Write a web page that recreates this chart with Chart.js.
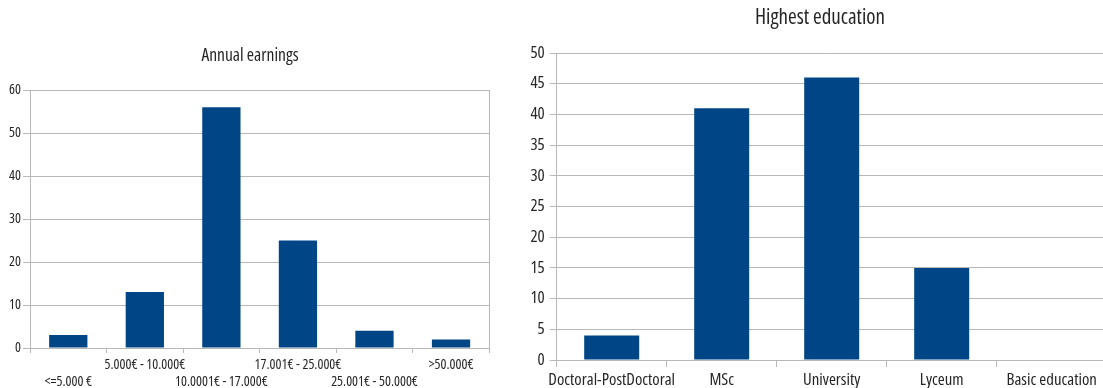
<!DOCTYPE html>
<html>
<head>
<meta charset="utf-8">
<script src="https://cdn.jsdelivr.net/npm/chart.js@4/dist/chart.umd.min.js"></script>
<style>
  html, body { margin: 0; padding: 0; background: #ffffff; overflow: hidden; width: 1103px; height: 388px; }
  .box { position: absolute; top: 0; height: 388px; }
  #leftBox { left: 0; width: 500px; }
  #rightBox { left: 520px; width: 600px; }
</style>
</head>
<body>
<div id="leftBox" class="box"><canvas id="earnings"></canvas></div>
<div id="rightBox" class="box"><canvas id="education"></canvas></div>
<script>
const earningsTitle = "Annual earnings";
const earningsCategories = ["<=5.000 €", "5.000€ - 10.000€", "10.0001€ - 17.000€", "17.001€ - 25.000€", "25.001€ - 50.000€", ">50.000€"];
const earningsValues = [3, 13, 56, 25, 4, 2];
const earningsTicks = [0, 10, 20, 30, 40, 50, 60];

const educationTitle = "Highest education";
const educationCategories = ["Doctoral-PostDoctoral", "MSc", "University", "Lyceum", "Basic education"];
const educationValues = [4, 41, 46, 15, 0];
const educationTicks = [0, 5, 10, 15, 20, 25, 30, 35, 40, 45, 50];

// Open Sans with its condensed width (font-stretch keyword goes in the weight slot of the font string)
const FONT = "'Open Sans', 'Roboto Condensed', sans-serif";
const WEIGHT = 'condensed';
const BAR = '#004586';
const GRID = '#b8b8b8';
const TEXT = '#262626';

Chart.defaults.font.family = FONT;
Chart.defaults.font.weight = WEIGHT;
Chart.defaults.color = TEXT;
Chart.defaults.animation = false;

function makeChart(id, cfg) {
  return new Chart(document.getElementById(id), {
    type: 'bar',
    data: {
      labels: cfg.categories,
      datasets: [{
        data: cfg.values,
        backgroundColor: BAR,
        borderWidth: 0,
        categoryPercentage: 1,
        barPercentage: 0.5
      }]
    },
    options: {
      responsive: true,
      maintainAspectRatio: false,
      layout: { padding: 0 },
      plugins: {
        legend: { display: false },
        tooltip: { enabled: false },
        title: {
          display: true,
          text: cfg.title,
          color: TEXT,
          font: { size: cfg.titleSize, weight: WEIGHT, lineHeight: 1.2 },
          padding: { top: cfg.titlePadTop, bottom: cfg.titlePadBottom }
        }
      },
      scales: {
        x: {
          offset: true,
          grid: { display: true, drawOnChartArea: false, drawTicks: true, tickLength: cfg.xTickLen, color: GRID, offset: true },
          border: { display: true, color: GRID },
          ticks: {
            autoSkip: false,
            maxRotation: 0,
            minRotation: 0,
            padding: cfg.xPad,
            color: TEXT,
            font: { size: cfg.xFont, lineHeight: cfg.xLineHeight, weight: WEIGHT },
            callback: cfg.xCallback
          },
          afterFit: s => { s.height = cfg.xHeight; }
        },
        y: {
          min: 0,
          max: cfg.ticks[cfg.ticks.length - 1],
          afterBuildTicks: s => { s.ticks = cfg.ticks.map(v => ({ value: v })); },
          grid: { color: GRID, tickLength: 7, drawTicks: true },
          border: { display: true, color: GRID },
          ticks: { padding: cfg.yPad, color: TEXT, font: { size: cfg.yFont, weight: WEIGHT } },
          afterFit: s => { s.width = cfg.yWidth; }
        },
        y2: {
          position: 'right',
          min: 0,
          max: cfg.ticks[cfg.ticks.length - 1],
          grid: { drawOnChartArea: false, drawTicks: false },
          border: { display: cfg.rightBorder, color: GRID },
          ticks: { display: false },
          afterFit: s => { s.width = cfg.rightSpace; }
        }
      }
    }
  });
}

makeChart('earnings', {
  title: earningsTitle,
  categories: earningsCategories,
  values: earningsValues,
  ticks: earningsTicks,
  rightSpace: 10.7,
  titleSize: 17.5,
  titlePadTop: 45.5,
  titlePadBottom: 23.5,
  xTickLen: 5,
  xPad: 3.5,
  xFont: 14,
  xLineHeight: 1.214,
  xHeight: 40,
  yPad: 2,
  yFont: 14,
  yWidth: 30,
  rightBorder: true,
  xCallback: function (value, index) {
    const label = this.getLabelForValue(value);
    return index % 2 === 1 ? [label, ''] : ['', label];
  }
});

makeChart('education', {
  title: educationTitle,
  categories: educationCategories,
  values: educationValues,
  ticks: educationTicks,
  rightSpace: 13.3,
  titleSize: 21,
  titlePadTop: 5.4,
  titlePadBottom: 22.4,
  xTickLen: 7,
  xPad: 2.9,
  xFont: 16.8,
  xLineHeight: 1.2,
  xHeight: 28,
  yPad: 5,
  yFont: 16.8,
  yWidth: 36.7,
  rightBorder: false,
  xCallback: function (value) { return this.getLabelForValue(value); }
});
</script>
</body>
</html>
